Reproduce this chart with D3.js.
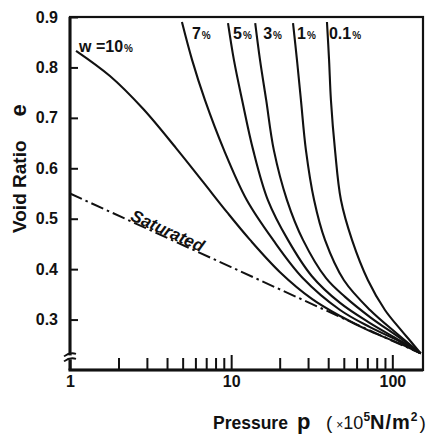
<!DOCTYPE html>
<html>
<head>
<meta charset="utf-8">
<script src="https://cdn.jsdelivr.net/npm/d3@7"></script>
<style>
  body { margin: 0; background: #fff; }
  svg { display: block; font-family: "Liberation Sans", Arial, Helvetica, sans-serif; }
  .axis text { font-weight: bold; font-size: 16px; fill: #111; }
  .axis .domain { display: none; }
  .axis line { stroke: #111; stroke-width: 2; }
</style>
</head>
<body>
<div id="chart"></div>
<script>
// void ratio e against pressure p (x10^5 N/m^2)
var eTicks = [0.3, 0.4, 0.5, 0.6, 0.7, 0.8, 0.9];
var pMajor = [1, 10, 100];
var pMinor = [2, 3, 4, 5, 6, 7, 8, 9, 20, 30, 40, 50, 60, 70, 80, 90];

// saturated line (dash-dot)
var satP = [1, 10, 100, 150];
var satE = [0.55, 0.404, 0.258, 0.233];

// water content curves
var w10P = [1.09, 1.77, 2.84, 4.55, 6.69, 9.42, 13.1, 20.1, 31.7, 47.4, 72.7, 112, 150];
var w10E = [0.833, 0.783, 0.718, 0.640, 0.573, 0.513, 0.458, 0.394, 0.341, 0.307, 0.277, 0.252, 0.233];
var w7P = [4.95, 5.72, 6.88, 9.03, 12.5, 18.2, 27.9, 47.4, 72.7, 112, 150];
var w7E = [0.890, 0.815, 0.735, 0.636, 0.537, 0.458, 0.382, 0.319, 0.285, 0.256, 0.233];
var w5P = [9.56, 10.4, 11.7, 13.7, 16.9, 22.5, 31.7, 47.4, 72.7, 112, 150];
var w5E = [0.888, 0.815, 0.735, 0.636, 0.537, 0.458, 0.386, 0.333, 0.293, 0.258, 0.233];
var w3P = [14.1, 15.1, 16.5, 18.4, 22.2, 27.9, 38.8, 50.9, 72.7, 112, 150];
var w3E = [0.888, 0.815, 0.735, 0.636, 0.537, 0.458, 0.382, 0.345, 0.305, 0.263, 0.233];
var w1P = [24.2, 25.6, 27.1, 29.1, 32.7, 38.2, 50.1, 72.7, 108, 150];
var w1E = [0.888, 0.815, 0.735, 0.636, 0.537, 0.458, 0.378, 0.319, 0.271, 0.233];
var w01P = [39.3, 40.5, 41.6, 44.1, 48.0, 56.2, 70.6, 90.0, 112, 129, 150];
var w01E = [0.890, 0.815, 0.735, 0.636, 0.537, 0.458, 0.378, 0.319, 0.281, 0.258, 0.233];

var curveNames = ["10", "7", "5", "3", "1", "0.1"];
var curveP = [w10P, w7P, w5P, w3P, w1P, w01P];
var curveE = [w10E, w7E, w5E, w3E, w1E, w01E];

var width = 437, height = 437;
var margin = {top: 17, right: 14, bottom: 67, left: 70};
// horizontal nudge of the top labels from their curve ends
var labelDx = [0, 10, 5, 8, 4, 2];

var svg = d3.select("#chart").append("svg")
    .attr("width", width)
    .attr("height", height);

var x = d3.scaleLog()
    .domain([1, 155])
    .range([margin.left, width - margin.right]);

var y = d3.scaleLinear()
    .domain([0.2, 0.9])
    .range([height - margin.bottom, margin.top]);

var zip = function(ps, es) { return ps.map(function(p, i) { return [p, es[i]]; }); };

// frame (top and right sides)
svg.append("rect")
    .attr("x", x.range()[0])
    .attr("y", y.range()[1])
    .attr("width", x.range()[1] - x.range()[0])
    .attr("height", y.range()[0] - y.range()[1])
    .attr("fill", "none")
    .attr("stroke", "#111")
    .attr("stroke-width", 2.2);

// y axis, ticks pointing inside
svg.append("g")
    .attr("class", "axis y-axis")
    .attr("transform", "translate(" + margin.left + ",0)")
    .call(d3.axisLeft(y).tickValues(eTicks).tickSize(-8).tickSizeOuter(0).tickPadding(12)
      .tickFormat(d3.format(".1f")));

// x axis: minor and major ticks pointing up
var xAxisY = height - margin.bottom;
svg.append("g")
    .attr("class", "axis x-axis")
    .attr("transform", "translate(0," + xAxisY + ")")
    .call(d3.axisBottom(x).tickValues(pMinor).tickSize(-12).tickSizeOuter(0).tickFormat(""));
svg.append("g")
    .attr("class", "axis x-axis")
    .attr("transform", "translate(0," + xAxisY + ")")
    .call(d3.axisBottom(x).tickValues(pMajor).tickSize(-15).tickSizeOuter(0).tickPadding(6)
      .tickFormat(d3.format("d")));

// heavy axis lines
svg.append("line")
    .attr("x1", x.range()[0]).attr("x2", x.range()[0])
    .attr("y1", y.range()[1]).attr("y2", y.range()[0])
    .attr("stroke", "#111").attr("stroke-width", 3);
svg.append("line")
    .attr("x1", x.range()[0] - 1.5).attr("x2", x.range()[1])
    .attr("y1", xAxisY).attr("y2", xAxisY)
    .attr("stroke", "#111").attr("stroke-width", 3);

// axis break mark near the bottom of the e axis
var brk = y(0.225);
svg.append("rect")
    .attr("x", margin.left - 3).attr("y", brk - 2)
    .attr("width", 6).attr("height", 4)
    .attr("fill", "#fff");
[-2.5, 2.5].forEach(function(o) {
  svg.append("path")
    .attr("d", "M" + (margin.left - 6) + "," + (brk + o + 1.5) +
               " Q" + (margin.left) + "," + (brk + o - 3) + " " + (margin.left + 6) + "," + (brk + o - 1))
    .attr("fill", "none").attr("stroke", "#111").attr("stroke-width", 1.8);
});

// saturated dash-dot line
var satLine = d3.line()
    .x(function(d) { return x(d[0]); })
    .y(function(d) { return y(d[1]); });
svg.append("path")
    .attr("d", satLine(zip(satP, satE)))
    .attr("fill", "none")
    .attr("stroke", "#111")
    .attr("stroke-width", 2)
    .attr("stroke-dasharray", "13,4,2.5,4");

// water content curves
var line = d3.line()
    .x(function(d) { return x(d[0]); })
    .y(function(d) { return y(d[1]); })
    .curve(d3.curveCatmullRom.alpha(0.5));

curveNames.forEach(function(name, i) {
  svg.append("path")
      .attr("class", "line w" + i)
      .attr("d", line(zip(curveP[i], curveE[i])))
      .attr("fill", "none")
      .attr("stroke", "#111")
      .attr("stroke-width", 2.1);
});

// curve labels
var lab10 = svg.append("text")
    .attr("x", x(curveP[0][0]) + 3)
    .attr("y", y(curveE[0][0]) + 1)
    .attr("font-weight", "bold")
    .attr("font-size", 16)
    .attr("fill", "#111");
lab10.append("tspan").text("w =10");
lab10.append("tspan").attr("font-size", 10).attr("dx", 1).text("%");

curveNames.slice(1).forEach(function(name, k) {
  var i = k + 1;
  var t = svg.append("text")
      .attr("x", x(curveP[i][0]) + labelDx[i])
      .attr("y", y(0.9) + 22)
      .attr("font-weight", "bold")
      .attr("font-size", 16)
      .attr("fill", "#111");
  t.append("tspan").text(name);
  t.append("tspan").attr("font-size", 10).attr("dx", 1).text("%");
});

// label along the saturated line
var angle = Math.atan2(y(satE[1]) - y(satE[0]), x(satP[1]) - x(satP[0])) * 180 / Math.PI;
var satLabP = 3.9;
var satLabE = d3.scaleLog().domain([satP[0], satP[1]]).range([satE[0], satE[1]])(satLabP);
svg.append("text")
    .attr("transform", "translate(" + x(satLabP) + "," + (y(satLabE) - 1) + ") rotate(" + angle + ")")
    .attr("text-anchor", "middle")
    .attr("font-weight", "bold")
    .attr("font-style", "italic")
    .attr("font-size", 17)
    .attr("fill", "#111")
    .text("Saturated");

// y axis title
var yTitle = svg.append("text")
    .attr("transform", "translate(26,233) rotate(-90)")
    .attr("font-weight", "bold")
    .attr("font-size", 19)
    .attr("fill", "#111");
yTitle.append("tspan").text("Void Ratio");
yTitle.append("tspan").attr("dx", 24).attr("font-size", 22).text("e");

// x axis title
var xTitle = svg.append("text")
    .attr("y", 429)
    .attr("font-weight", "bold")
    .attr("font-size", 17.5)
    .attr("fill", "#111");
xTitle.append("tspan").attr("x", 213).text("Pressure");
xTitle.append("tspan").attr("x", 297).attr("font-size", 22).text("p");
xTitle.append("tspan").attr("x", 326).attr("font-weight", "normal").attr("font-size", 19).text("(");
xTitle.append("tspan").attr("dx", 4).attr("font-weight", "normal").attr("font-size", 12).text("×");
xTitle.append("tspan").attr("font-weight", "normal").attr("font-size", 18).text("10");
xTitle.append("tspan").attr("dy", -8).attr("font-size", 12).text("5");
xTitle.append("tspan").attr("dy", 8).attr("font-size", 20).attr("letter-spacing", 1).text("N/m");
xTitle.append("tspan").attr("dy", -8).attr("font-size", 12).text("2");
xTitle.append("tspan").attr("dy", 8).attr("dx", 2).attr("font-weight", "normal").attr("font-size", 19).text(")");
</script>
</body>
</html>
